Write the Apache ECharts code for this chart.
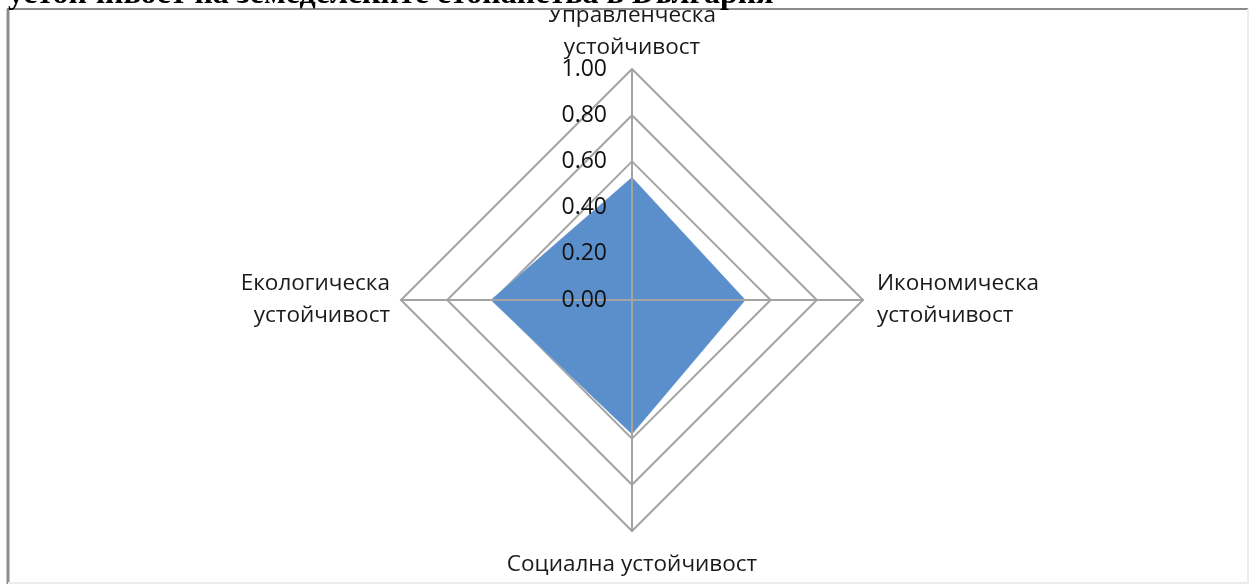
<!DOCTYPE html>
<html>
<head>
<meta charset="utf-8">
<script src="https://cdn.jsdelivr.net/npm/echarts@6/dist/echarts.min.js"></script>
<style>
  html, body { margin: 0; padding: 0; background: #fff; }
  #chart { width: 1252px; height: 587px; }
</style>
</head>
<body>
<div id="chart"></div>
<script>
// radar dimensions, in ECharts order (top, then counter-clockwise: left, bottom, right)
const dimNames = [
  "Управленческа\nустойчивост",
  "Екологическа\nустойчивост",
  "Социална устойчивост",
  "Икономическа\nустойчивост"
];
const scores = [0.53, 0.61, 0.58, 0.49];
const tickLabels = ["0.00", "0.20", "0.40", "0.60", "0.80", "1.00"];
const titleText = "устойчивост на земеделските стопанства в България";

const FONT = "'Open Sans', sans-serif";
const GRID = "#a3a3a3";
const FILL = "#5b8fcb";
const NAME_GAPS = [5, 11, 18, 14];

const chart = echarts.init(document.getElementById("chart"), null, { renderer: "canvas" });

const baseRadar = {
  center: [632, 300], radius: 231, shape: "polygon", startAngle: 90,
  splitNumber: 5
};

chart.setOption({
  animation: false,
  radar: [
    // rings + names (below the filled area)
    Object.assign({}, baseRadar, {
      z: 1,
      indicator: dimNames.map((n, i) => ({ name: n, min: 0, max: 1, nameGap: NAME_GAPS[i] })),
      axisName: { color: "#1a1a1a", fontFamily: FONT, fontSize: 22.5, lineHeight: 32 },
      splitLine: { lineStyle: { color: GRID, width: 2 } },
      splitArea: { show: false },
      axisLine: { show: false },
      axisTick: { show: false },
      axisLabel: { show: false }
    }),
    // spokes + value labels (above the filled area)
    Object.assign({}, baseRadar, {
      z: 5,
      indicator: dimNames.map((n, i) => {
        const d = { name: n, min: 0, max: 1 };
        if (i > 0) d.axisLabel = { show: false }; // values only on the vertical axis
        return d;
      }),
      axisName: { show: false },
      splitLine: { show: false },
      splitArea: { show: false },
      axisLine: { show: true, lineStyle: { color: GRID, width: 2 } },
      axisTick: { show: false },
      axisLabel: {
        show: true, margin: 25, color: "#111", fontFamily: FONT, fontSize: 23,
        formatter: (v) => tickLabels[Math.round(v * 5)]
      }
    })
  ],
  series: [{
    type: "radar", radarIndex: 0, z: 3, symbol: "none",
    lineStyle: { color: "#8fb4de", width: 1 },
    areaStyle: { color: FILL, opacity: 1 },
    data: [{ value: scores }]
  }],
  graphic: [
    { type: "rect", z: 100, shape: { x: 0, y: 0, width: 1252, height: 10 }, style: { fill: "#fff" } },
    { type: "line", z: 101, shape: { x1: 7, y1: 9, x2: 1248, y2: 9 }, style: { stroke: "#8c8c8c", lineWidth: 2 } },
    { type: "line", z: 101, shape: { x1: 8, y1: 9, x2: 8, y2: 584 }, style: { stroke: "#8c8c8c", lineWidth: 3 } },
    { type: "line", z: 101, shape: { x1: 1248, y1: 9, x2: 1248, y2: 584 }, style: { stroke: "#ececec", lineWidth: 2 } },
    { type: "line", z: 101, shape: { x1: 8, y1: 583, x2: 1248, y2: 583 }, style: { stroke: "#ececec", lineWidth: 2 } },
    {
      type: "text", z: 102, x: 8, y: 11,
      style: {
        text: titleText, fill: "#000", fontFamily: "'Liberation Serif', serif",
        fontWeight: "bold", fontSize: 32, verticalAlign: "bottom", align: "left"
      }
    }
  ]
});
</script>
</body>
</html>
